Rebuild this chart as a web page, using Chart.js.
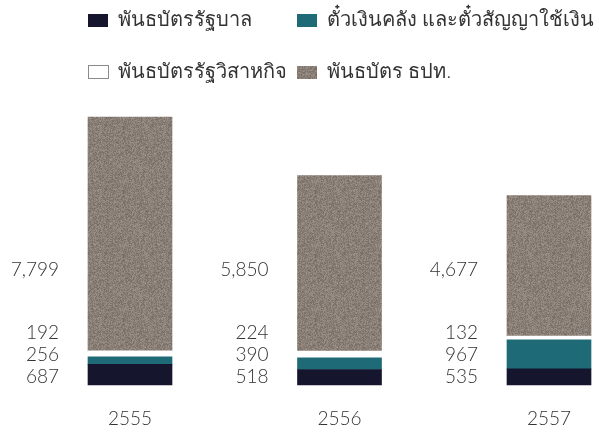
<!DOCTYPE html>
<html>
<head>
<meta charset="utf-8">
<script src="https://cdn.jsdelivr.net/npm/chart.js@4/dist/chart.umd.min.js"></script>
<style>
  html, body { margin: 0; padding: 0; background: #ffffff; }
  #wrap { width: 599px; height: 433px; position: relative; }
</style>
</head>
<body>
<div id="wrap"><canvas id="c" width="599" height="433"></canvas></div>
<script>
// Years (Buddhist era)
const years = ['2555', '2556', '2557'];

// Outstanding amounts per instrument
const govBonds = [687, 518, 535];          // พันธบัตรรัฐบาล
const billsAndNotes = [256, 390, 967];     // ตั๋วเงินคลัง และตั๋วสัญญาใช้เงิน
const soeBonds = [192, 224, 132];          // พันธบัตรรัฐวิสาหกิจ
const botBonds = [7799, 5850, 4677];       // พันธบัตร ธปท.

const seriesNames = [
  'พันธบัตรรัฐบาล',
  'ตั๋วเงินคลัง และตั๋วสัญญาใช้เงิน',
  'พันธบัตรรัฐวิสาหกิจ',
  'พันธบัตร ธปท.'
];

const FONT = "Lato, 'Liberation Sans', 'Noto Sans', sans-serif";
const TEXT = '#333333';

// Speckled warm-grey fill used for the Bank of Thailand bond segment
function makeGrain(base) {
  const c = document.createElement('canvas');
  c.width = 64; c.height = 64;
  const g = c.getContext('2d');
  const img = g.createImageData(64, 64);
  let s = 12345;
  const next = () => { s = (s * 1103515245 + 12345) & 0x7fffffff; return s / 0x7fffffff; };
  for (let i = 0; i < 64 * 64; i++) {
    const d = (next() - 0.5) * 38;
    img.data[i * 4] = Math.max(0, Math.min(255, base[0] + d));
    img.data[i * 4 + 1] = Math.max(0, Math.min(255, base[1] + d));
    img.data[i * 4 + 2] = Math.max(0, Math.min(255, base[2] + d));
    img.data[i * 4 + 3] = 255;
  }
  g.putImageData(img, 0, 0);
  return g.createPattern(c, 'repeat');
}

const ctx = document.getElementById('c').getContext('2d');
const grain = makeGrain([137, 127, 118]);

const colors = ['#15152e', '#1e6b77', '#ffffff', grain];

// Value labels stacked to the left of each bar
const sideLabels = {
  id: 'sideLabels',
  afterDatasetsDraw(chart) {
    const c = chart.ctx;
    const base = chart.scales.y.getPixelForValue(0);
    const offsets = [8, 30, 52, 115];
    c.save();
    c.font = '300 19px ' + FONT;
    c.fillStyle = TEXT;
    c.textAlign = 'right';
    c.textBaseline = 'middle';
    chart.data.datasets.forEach((ds, di) => {
      const meta = chart.getDatasetMeta(di);
      meta.data.forEach((bar, i) => {
        const left = bar.x - bar.width / 2;
        c.fillText(ds.data[i].toLocaleString('en-US'), left - 29, base - offsets[di]);
      });
    });
    c.restore();
  }
};

// Two-row legend above the bars
const topLegend = {
  id: 'topLegend',
  afterDraw(chart) {
    const c = chart.ctx;
    const spots = [
      { x: 88, y: 20 }, { x: 297, y: 20 },
      { x: 88, y: 72 }, { x: 297, y: 72 }
    ];
    c.save();
    c.font = '300 20px ' + FONT;
    c.textBaseline = 'middle';
    c.textAlign = 'left';
    chart.data.datasets.forEach((ds, i) => {
      const p = spots[i];
      c.fillStyle = colors[i];
      c.fillRect(p.x, p.y - 6, 20, 13);
      if (i === 2) {
        c.strokeStyle = '#8a8a8a';
        c.lineWidth = 1;
        c.strokeRect(p.x + 0.5, p.y - 6.5, 20, 13);
      }
      c.fillStyle = TEXT;
      c.fillText(ds.label, p.x + 30, p.y);
    });
    c.restore();
  }
};

new Chart(ctx, {
  type: 'bar',
  data: {
    labels: years,
    datasets: [
      { label: seriesNames[0], data: govBonds, backgroundColor: colors[0] },
      { label: seriesNames[1], data: billsAndNotes, backgroundColor: colors[1] },
      { label: seriesNames[2], data: soeBonds, backgroundColor: colors[2] },
      { label: seriesNames[3], data: botBonds, backgroundColor: colors[3] }
    ]
  },
  options: {
    responsive: false,
    animation: false,
    devicePixelRatio: 1,
    layout: { padding: { left: 130, right: 50, top: 85, bottom: 0 } },
    datasets: { bar: { barThickness: 84, borderWidth: 0, clip: false } },
    plugins: {
      legend: { display: false },
      tooltip: { enabled: false }
    },
    scales: {
      x: {
        stacked: true,
        offset: false,
        grid: { display: false, drawTicks: false },
        border: { display: false },
        ticks: { font: { family: FONT, size: 19, weight: 300 }, color: TEXT, padding: 22, autoSkip: false, maxRotation: 0 },
        afterFit(scale) { scale.height = 48; }
      },
      y: {
        stacked: true,
        display: false,
        min: 0,
        max: 10000
      }
    }
  },
  plugins: [sideLabels, topLegend]
});
</script>
</body>
</html>
